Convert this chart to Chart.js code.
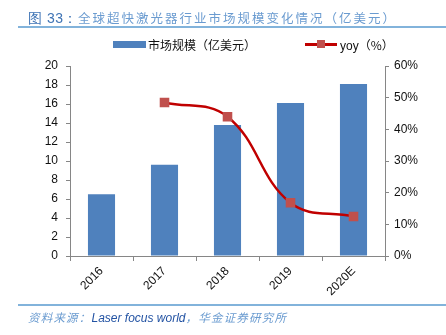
<!DOCTYPE html>
<html>
<head>
<meta charset="utf-8">
<script src="https://cdn.jsdelivr.net/npm/chart.js@4/dist/chart.umd.min.js"></script>
<style>
  html, body { margin: 0; padding: 0; background: #fff; }
  #wrap { position: relative; width: 446px; height: 335px; overflow: hidden; font-family: "Liberation Sans", Arial, sans-serif; }
  #chart { position: absolute; left: 0; top: 0; }
  .title { position: absolute; left: 28px; top: 8px; font-family: "Noto Sans CJK SC", sans-serif; font-size: 12.5px; letter-spacing: 2px; color: #6a9bd0; white-space: nowrap; }
  .title b { font-weight: normal; color: #3f74b5; font-family: "Liberation Sans", Arial, sans-serif; font-size: 14px; letter-spacing: 0.5px; }
  .rule { position: absolute; left: 18px; width: 428px; height: 2px; background: #82b3db; }
  .legend { position: absolute; top: 36px; font-size: 12px; color: #111; white-space: nowrap; }
  .legend span.cn { font-family: "Noto Sans CJK SC", sans-serif; }
  .swatch { position: absolute; }
  .source { position: absolute; left: 28px; top: 309px; font-size: 11.5px; font-style: italic; white-space: nowrap; color: #6a9bd0; font-family: "Noto Sans CJK SC", sans-serif; letter-spacing: 1.2px; }
  .source em { color: #2353a3; font-family: "Liberation Sans", Arial, sans-serif; font-size: 12px; letter-spacing: 0; }
</style>
</head>
<body>
<div id="wrap">
  <canvas id="chart" width="446" height="335"></canvas>
  <div class="title"><b>图 33：</b>全球超快激光器行业市场规模变化情况（亿美元）</div>
  <div class="rule" style="top:26px"></div>

  <div class="swatch" style="left:113px;top:41px;width:33px;height:7px;background:#4f81bd"></div>
  <div class="legend" style="left:148px"><span class="cn">市场规模（亿美元）</span></div>
  <div class="swatch" style="left:305px;top:43px;width:32px;height:3px;background:#c00000"></div>
  <div class="swatch" style="left:317px;top:40px;width:8px;height:8px;background:#c0504d"></div>
  <div class="legend" style="left:340px">yoy<span class="cn">（%）</span></div>

  <div class="rule" style="top:304px"></div>
  <div class="source">资料来源：<em>Laser focus world</em>，华金证券研究所</div>
</div>
<script>
// 年份与数据
const years = ["2016", "2017", "2018", "2019", "2020E"];
const marketSize = [6.5, 9.6, 13.8, 16.1, 18.1];   // 亿美元
const yoy = [null, 48.5, 44.0, 16.8, 12.5];          // %

const axisColor = "#868686";
const tickFont = { family: "Liberation Sans, Arial, sans-serif", size: 12 };

new Chart(document.getElementById("chart"), {
    data: {
        labels: years,
        datasets: [
            {
                type: "line",
                label: "yoy（%）",
                data: yoy,
                yAxisID: "y1",
                borderColor: "#c00000",
                borderWidth: 2.5,
                tension: 0.4,
                pointStyle: "rect",
                pointRadius: 5,
                pointBackgroundColor: "#c0504d",
                pointBorderColor: "#c0504d",
                order: 0
            },
            {
                type: "bar",
                label: "市场规模（亿美元）",
                data: marketSize,
                yAxisID: "y",
                backgroundColor: "#4f81bd",
                categoryPercentage: 1,
                barPercentage: 0.43,
                order: 1
            }
        ]
    },
    options: {
        responsive: false,
        animation: false,
        layout: { padding: { top: 66, left: 0, right: 0, bottom: 0 } },
        plugins: { legend: { display: false }, tooltip: { enabled: false } },
        scales: {
            x: {
                grid: { offset: true, drawOnChartArea: false, color: axisColor, tickLength: 5 },
                border: { color: axisColor },
                ticks: { color: "#111", font: tickFont, minRotation: 45, maxRotation: 45, padding: 3 },
                afterFit: function (scale) { scale.height = 335 - 256; }
            },
            y: {
                position: "left",
                min: 0, max: 20,
                ticks: { stepSize: 2, color: "#111", font: tickFont, padding: 8 },
                grid: { drawOnChartArea: false, color: axisColor, tickLength: 4 },
                border: { color: axisColor },
                afterFit: function (scale) { scale.width = 70; }
            },
            y1: {
                position: "right",
                min: 0, max: 60,
                ticks: { stepSize: 10, color: "#111", font: tickFont, padding: 5,
                         callback: v => v + "%" },
                grid: { drawOnChartArea: false, color: axisColor, tickLength: 4 },
                border: { color: axisColor },
                afterFit: function (scale) { scale.width = 446 - 385; }
            }
        }
    }
});
</script>
</body>
</html>
